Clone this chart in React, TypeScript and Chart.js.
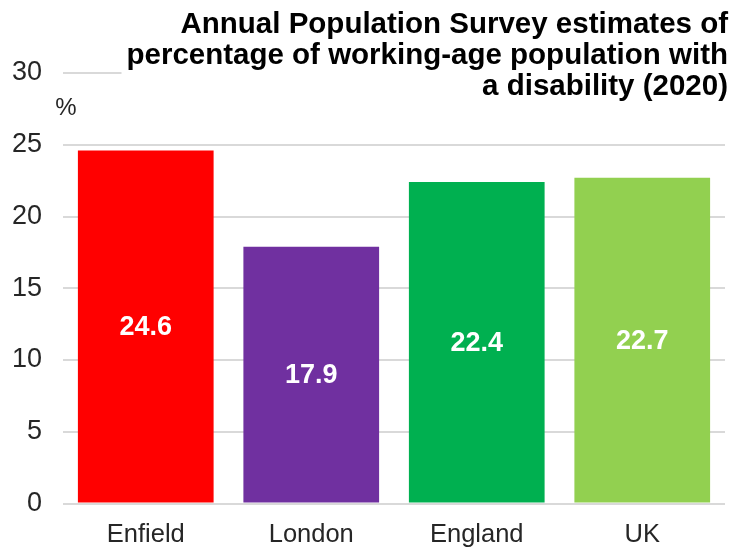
import React, { useEffect, useRef } from 'react';
import { Chart, registerables } from 'chart.js';

Chart.register(...registerables);

const categories = ['Enfield', 'London', 'England', 'UK'];
const values = [24.6, 17.9, 22.4, 22.7];
const barColors = ['#ff0000', '#7030a0', '#00b050', '#92d050'];
const yMin = 0;
const yMax = 30;
const yStep = 5;
const titleLines = [
  'Annual Population Survey estimates of',
  'percentage of working-age population with',
  'a disability (2020)',
];
const unitLabel = '%';

const FONT = '"Liberation Sans", Arial, Helvetica, sans-serif';
const TEXT_COLOR = '#262626';
const GRID_COLOR = '#d9d9d9';

const titlePlugin = {
  id: 'boxTitle',
  afterDraw(chart: any) {
    const ctx = chart.ctx as CanvasRenderingContext2D;
    ctx.save();
    ctx.font = `bold 29.5px ${FONT}`;
    const right = 728;
    const baselines = [33, 64, 95];
    let minLeft = right;
    titleLines.forEach((l) => {
      minLeft = Math.min(minLeft, right - ctx.measureText(l).width);
    });
    ctx.fillStyle = '#ffffff';
    ctx.fillRect(minLeft - 5, 0, chart.width - minLeft + 5, 102);
    ctx.fillStyle = '#000000';
    ctx.textAlign = 'right';
    ctx.textBaseline = 'alphabetic';
    titleLines.forEach((l, i) => {
      ctx.fillText(l, right, baselines[i]);
    });
    ctx.font = `24px ${FONT}`;
    ctx.fillStyle = TEXT_COLOR;
    ctx.textAlign = 'center';
    ctx.fillText(unitLabel, 66, 115);
    ctx.restore();
  },
};

const valueLabelPlugin = {
  id: 'valueLabels',
  afterDatasetsDraw(chart: any) {
    const ctx = chart.ctx as CanvasRenderingContext2D;
    const meta = chart.getDatasetMeta(0);
    ctx.save();
    ctx.font = `bold 27px ${FONT}`;
    ctx.fillStyle = '#ffffff';
    ctx.textAlign = 'center';
    ctx.textBaseline = 'middle';
    meta.data.forEach((bar: any, i: number) => {
      const p = bar.getProps(['x', 'y', 'base'], true);
      ctx.fillText(values[i].toFixed(1), p.x, (p.y + p.base) / 2 + 1);
    });
    ctx.restore();
  },
};

export default function App() {
  const ref = useRef<HTMLCanvasElement | null>(null);
  useEffect(() => {
    if (!ref.current) return;
    const chart = new Chart(ref.current, {
      type: 'bar',
      data: {
        labels: categories,
        datasets: [
          {
            data: values,
            backgroundColor: barColors,
            borderWidth: 0,
            categoryPercentage: 1,
            barPercentage: 0.82,
          },
        ],
      },
      options: {
        animation: false,
        responsive: false,
        layout: { padding: { top: 73, right: 11, left: 0, bottom: 0 } },
        plugins: {
          legend: { display: false },
          title: { display: false },
          tooltip: { enabled: false },
        },
        scales: {
          x: {
            grid: { display: false, drawTicks: false },
            border: { display: false },
            ticks: {
              color: TEXT_COLOR,
              font: { family: FONT, size: 25.5 },
              padding: 16,
            },
            afterFit: (s: any) => {
              s.height = 46.5;
            },
          },
          y: {
            min: yMin,
            max: yMax,
            grid: { color: GRID_COLOR, lineWidth: 2, drawTicks: false },
            border: { display: false },
            ticks: {
              stepSize: yStep,
              color: TEXT_COLOR,
              font: { family: FONT, size: 27 },
              padding: 21,
            },
            afterFit: (s: any) => {
              s.width = 63;
            },
          },
        },
      },
      plugins: [valueLabelPlugin, titlePlugin],
    });
    return () => chart.destroy();
  }, []);
  return (
    <div style={{ position: 'absolute', left: 0, top: 0, width: 736, height: 550, background: '#fff' }}>
      <canvas ref={ref} width={736} height={550} />
    </div>
  );
}
